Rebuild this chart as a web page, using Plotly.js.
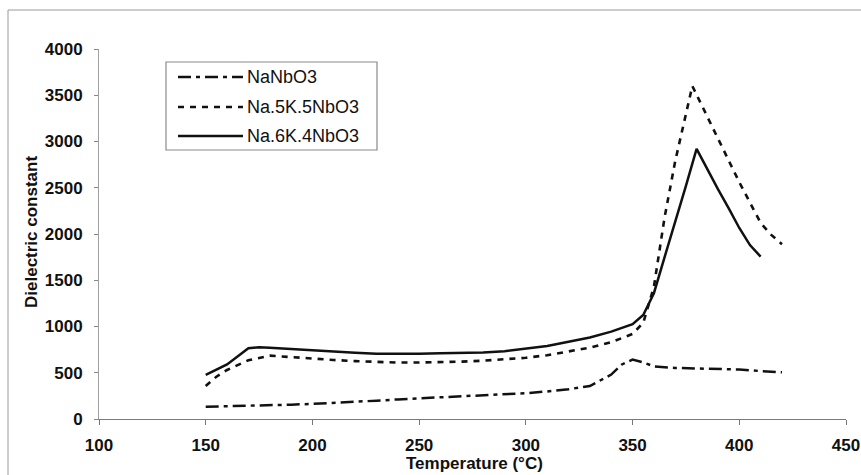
<!DOCTYPE html>
<html>
<head>
<meta charset="utf-8">
<script src="https://cdn.plot.ly/plotly-3.0.1.min.js"></script>
<style>
  html, body { margin: 0; padding: 0; background: #ffffff; }
  #chart { width: 861px; height: 475px; }
</style>
</head>
<body>
<div id="chart"></div>
<script>
// Dielectric constant versus temperature for three niobate compositions
const seriesNames = ['NaNbO3', 'Na.5K.5NbO3', 'Na.6K.4NbO3'];

const tempNaNbO3 = [150, 160, 170, 180, 190, 200, 210, 220, 230, 240, 250, 260, 270, 280, 290,
                    300, 310, 320, 330, 340, 345, 350, 355, 360, 370, 380, 390, 400, 410, 420];
const epsNaNbO3  = [133, 137, 141, 146, 155, 164, 174, 186, 198, 212, 222, 234, 245, 256, 267,
                    279, 298, 322, 357, 480, 590, 642, 612, 568, 552, 545, 540, 535, 518, 505];

const tempNa5K5 = [150, 155, 160, 170, 180, 190, 200, 210, 220, 230, 240, 250, 260, 270, 280, 290,
                   300, 310, 320, 330, 340, 350, 355, 360, 365, 370, 378, 385, 390, 395, 400, 405,
                   410, 415, 420];
const epsNa5K5  = [357, 457, 530, 635, 685, 668, 652, 638, 626, 616, 610, 611, 613, 620, 630, 645,
                   662, 690, 728, 771, 830, 920, 1040, 1430, 2180, 2790, 3600, 3270, 3020, 2790, 2560, 2340,
                   2120, 1990, 1890];

const tempNa6K4 = [150, 160, 170, 175, 180, 190, 200, 210, 220, 230, 240, 250, 260, 270, 280, 290,
                   300, 310, 320, 330, 340, 350, 355, 360, 365, 370, 375, 380, 385, 390, 395, 400,
                   405, 410];
const epsNa6K4  = [476, 590, 765, 775, 770, 755, 738, 728, 715, 705, 703, 706, 710, 714, 720, 732,
                   764, 790, 835, 882, 945, 1025, 1125, 1360, 1750, 2130, 2520, 2920, 2700, 2485, 2280, 2065,
                   1880, 1755];

const xTicks = [100, 150, 200, 250, 300, 350, 400, 450];
const yTicks = [0, 500, 1000, 1500, 2000, 2500, 3000, 3500, 4000];

const ink = '#111111';
const dashes = ['13px,5px,4px,5px', '6px,6px', 'solid'];
const widths = [2.5, 2.6, 2.5];

const xs = [tempNaNbO3, tempNa5K5, tempNa6K4];
const ys = [epsNaNbO3, epsNa5K5, epsNa6K4];

const traces = seriesNames.map((name, i) => ({
  type: 'scatter',
  mode: 'lines',
  name: name,
  x: xs[i],
  y: ys[i],
  line: { color: ink, width: widths[i], dash: dashes[i], shape: 'linear' },
  showlegend: false,
  hoverinfo: 'x+y+name'
}));

// plot area geometry in pixels (used to place the hand-drawn legend box)
const W = 861, H = 475;
const mL = 99, mR = 15, mT = 49, mB = 56;
const pw = W - mL - mR, ph = H - mT - mB;
const px = v => (v - mL) / pw;          // pixel x -> paper x
const py = v => (H - mB - v) / ph;      // pixel y -> paper y

const boldFont = { family: 'Liberation Sans, Arial, sans-serif', size: 17, color: ink, weight: 'bold' };
const legendFont = { family: 'Liberation Sans, Arial, sans-serif', size: 18, color: ink };

const shapes = [
  // outer frame
  { type: 'rect', xref: 'paper', yref: 'paper', x0: px(8), x1: px(875), y0: py(490), y1: py(10),
    line: { color: '#9a9a9a', width: 1 }, fillcolor: 'rgba(0,0,0,0)', layer: 'below' },
  // legend box
  { type: 'rect', xref: 'paper', yref: 'paper', x0: px(166), x1: px(377), y0: py(150), y1: py(62),
    line: { color: '#8a8a8a', width: 1.2 }, fillcolor: '#ffffff' }
];
const annotations = [
  { xref: 'paper', yref: 'paper', x: px(474), y: py(463), text: 'Temperature (°C)', showarrow: false,
    xanchor: 'center', yanchor: 'middle', font: boldFont },
  { xref: 'paper', yref: 'paper', x: px(31), y: py(232), text: 'Dielectric constant', showarrow: false,
    textangle: -90, xanchor: 'center', yanchor: 'middle', font: boldFont }
];
const rowY = [77, 107, 136];
seriesNames.forEach((name, i) => {
  shapes.push({ type: 'line', xref: 'paper', yref: 'paper', x0: px(178), x1: px(243), y0: py(rowY[i]), y1: py(rowY[i]),
    line: { color: ink, width: widths[i], dash: dashes[i] } });
  annotations.push({ xref: 'paper', yref: 'paper', x: px(245), y: py(rowY[i]), text: name, showarrow: false,
    xanchor: 'left', yanchor: 'middle', font: legendFont });
});

const layout = {
  width: W, height: H,
  margin: { l: mL, r: mR, t: mT, b: mB, pad: 0 },
  paper_bgcolor: '#ffffff',
  plot_bgcolor: '#ffffff',
  showlegend: false,
  xaxis: {
    range: [100, 450], tickvals: xTicks, ticktext: xTicks.map(String),
    ticks: 'outside', ticklen: 5, tickwidth: 1, tickcolor: '#777',
    showline: true, linecolor: '#7a7a7a', linewidth: 1.2,
    showgrid: false, zeroline: false, tickfont: boldFont, ticklabelstandoff: 5
  },
  yaxis: {
    range: [0, 4000], tickvals: yTicks, ticktext: yTicks.map(String),
    ticks: 'outside', ticklen: 4, tickwidth: 1, tickcolor: '#888',
    showline: true, linecolor: '#a0a0a0', linewidth: 1,
    showgrid: false, zeroline: false, tickfont: boldFont, ticklabelstandoff: 8
  },
  shapes: shapes,
  annotations: annotations
};

Plotly.newPlot('chart', traces, layout, { displayModeBar: false, staticPlot: true });
</script>
</body>
</html>
